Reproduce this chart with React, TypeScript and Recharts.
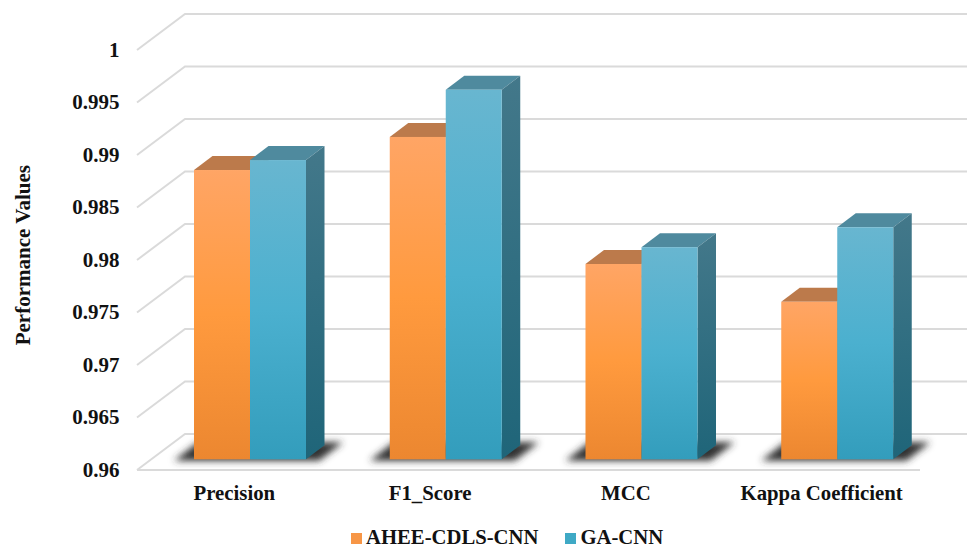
import React from "react";
import { Bar, BarChart, CartesianGrid, Legend, XAxis, YAxis } from "recharts";

const categories = ["Precision", "F1_Score", "MCC", "Kappa Coefficient"];
const aheeValues = [0.98755, 0.9907, 0.9786, 0.975];
const gaValues = [0.9885, 0.9952, 0.9802, 0.9821];
const yTicks = [0.96, 0.965, 0.97, 0.975, 0.98, 0.985, 0.99, 0.995, 1];
const yTickLabels = ["0.96", "0.965", "0.97", "0.975", "0.98", "0.985", "0.99", "0.995", "1"];

const rows = categories.map((name, i) => ({ name, ahee: aheeValues[i], ga: gaValues[i] }));

const FONT = "'Liberation Serif', 'Times New Roman', serif";
const DEPTH_X = 18.5;
const DEPTH_Y = 14;
const PLOT_BOTTOM = 459.3;

// Wall and floor gridlines: a slanted side edge running into a horizontal back edge.
function GridLine(props: any) {
  const { x1, x2, y1 } = props;
  const left = x1 - 15;
  const back = x1 + 33;
  const isFloor = Math.abs(y1 - PLOT_BOTTOM) < 2;
  return (
    <g fill="none" stroke="#DADADA" strokeWidth={2}>
      <path d={`M${left} ${y1 + 10.7}L${back} ${y1 - 25.3}L${x2 + 32} ${y1 - 25.3}`} />
      {isFloor && <path d={`M${left} ${y1 + 10.7}L${x2 - 15} ${y1 + 10.7}`} />}
    </g>
  );
}

function ValueTick(props: any) {
  const { y, payload } = props;
  const label = yTickLabels[yTicks.indexOf(payload.value)];
  return (
    <text x={119.5} y={y + 17.5} textAnchor="end" fontFamily={FONT} fontWeight="bold" fontSize={21} fill="#111">
      {label}
    </text>
  );
}

function CategoryTick(props: any) {
  const { x, y, payload } = props;
  return (
    <text x={x - 15.5} y={y + 33} textAnchor="middle" fontFamily={FONT} fontWeight="bold" fontSize={20.8} fill="#111">
      {payload.value}
    </text>
  );
}

function Box({ x, y, width, height, front, side, top }: any) {
  const r = x + width;
  const b = y + height;
  return (
    <g>
      <path d={`M${x} ${y}L${x + DEPTH_X} ${y - DEPTH_Y}L${r + DEPTH_X} ${y - DEPTH_Y}L${r} ${y}Z`} fill={top} />
      <path d={`M${r} ${y}L${r + DEPTH_X} ${y - DEPTH_Y}L${r + DEPTH_X} ${b - DEPTH_Y}L${r} ${b}Z`} fill={side} />
      <rect x={x} y={y} width={width} height={height} fill={front} />
    </g>
  );
}

// The orange bar is painted first, so it also lays the floor shadow for its whole cluster.
function AheeBar(props: any) {
  const { x, y, width, height } = props;
  const b = y + height;
  const r = x + width * 2;
  return (
    <g>
      <path
        d={`M${x - 20} ${b + 1.5}L${x + 4} ${b - DEPTH_Y - 3}L${r + 37} ${b - DEPTH_Y - 3}L${r + 13} ${b + 1.5}Z`}
        fill="#333333"
        filter="url(#floorShadow)"
      />
      <Box x={x} y={y} width={width} height={height} front="url(#aheeFront)" side="#A8662F" top="#BC7A4B" />
    </g>
  );
}

function GaBar(props: any) {
  const { x, y, width, height } = props;
  return <Box x={x} y={y} width={width} height={height} front="url(#gaFront)" side="url(#gaSide)" top="#4F8A9E" />;
}

// Legend row: small square swatch followed by the bold series name.
function LegendRow({ payload }: any) {
  return (
    <div style={{ display: "flex", alignItems: "center", fontFamily: FONT, fontWeight: "bold", fontSize: 20.7, color: "#111", lineHeight: "24px" }}>
      {(payload || []).map((item: any, i: number) => (
        <div key={item.value} style={{ display: "flex", alignItems: "center", marginLeft: i ? 27 : 0 }}>
          <span style={{ width: 10.5, height: 10.5, marginRight: 4.5, marginTop: 3, background: item.color }} />
          <span>{item.value}</span>
        </div>
      ))}
    </div>
  );
}

export default function App() {
  return (
    <div style={{ position: "absolute", left: 0, top: 0 }}>
      <BarChart
        width={967}
        height={548}
        data={rows}
        barSize={56}
        barGap={0}
        margin={{ top: 39.3, right: 32, bottom: 0, left: 0 }}
      >
        <defs>
          <linearGradient id="aheeFront" x1="0" y1="0" x2="0" y2="1">
            <stop offset="0" stopColor="#FFA565" />
            <stop offset="0.5" stopColor="#FF9A3E" />
            <stop offset="1" stopColor="#EC8730" />
          </linearGradient>
          <linearGradient id="gaFront" x1="0" y1="0" x2="0" y2="1">
            <stop offset="0" stopColor="#68B6D0" />
            <stop offset="0.5" stopColor="#4BB0CF" />
            <stop offset="1" stopColor="#339DBC" />
          </linearGradient>
          <linearGradient id="gaSide" x1="0" y1="0" x2="0" y2="1">
            <stop offset="0" stopColor="#43788A" />
            <stop offset="1" stopColor="#1F6579" />
          </linearGradient>
          <filter id="floorShadow" x="-20%" y="-60%" width="140%" height="220%">
            <feGaussianBlur stdDeviation="3.5" />
          </filter>
        </defs>
        <CartesianGrid vertical={false} horizontal={GridLine as any} />
        <XAxis
          dataKey="name"
          axisLine={false}
          tickLine={false}
          height={88.7 - 30}
          interval={0}
          tick={CategoryTick as any}
        />
        <YAxis
          width={152}
          domain={[0.96, 1]}
          ticks={yTicks}
          interval={0}
          axisLine={false}
          tickLine={false}
          tick={ValueTick as any}
          label={{
            value: "Performance Values",
            angle: -90,
            position: "insideLeft",
            dx: 18,
            dy: 96,
            style: { fontFamily: FONT, fontWeight: "bold", fontSize: 21, fill: "#111" },
          }}
        />
        <Legend
          height={30}
          content={LegendRow as any}
          wrapperStyle={{ top: 525, left: 351, width: 340 }}
        />
        <Bar dataKey="ahee" name="AHEE-CDLS-CNN" fill="#F79646" shape={AheeBar as any} isAnimationActive={false} />
        <Bar dataKey="ga" name="GA-CNN" fill="#3FA9C5" shape={GaBar as any} isAnimationActive={false} />
      </BarChart>
    </div>
  );
}
